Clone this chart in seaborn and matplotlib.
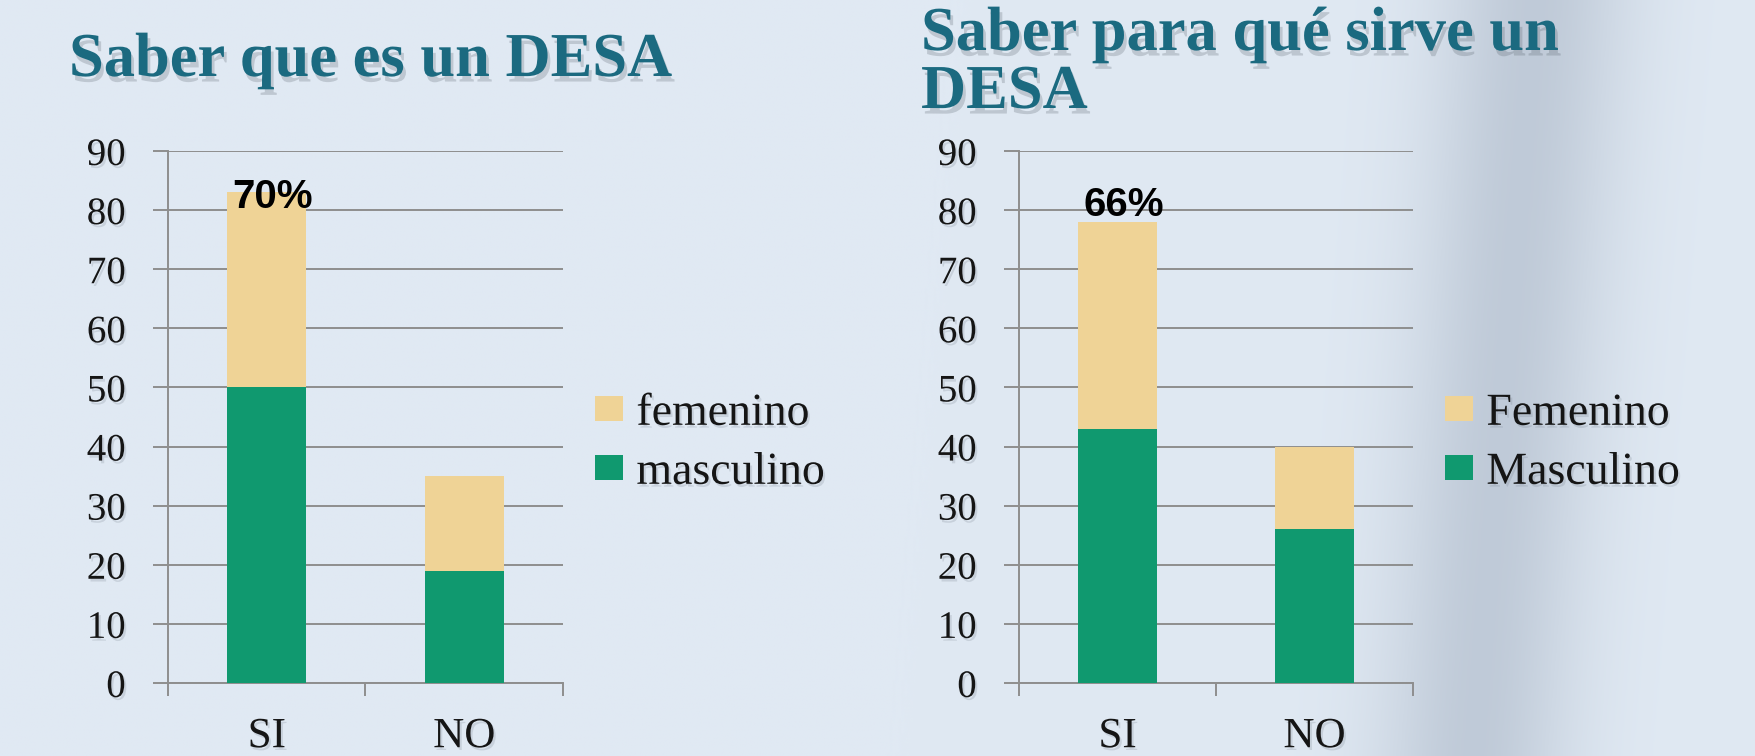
import numpy as np
import pandas as pd
import matplotlib
matplotlib.use("Agg")
import matplotlib.pyplot as plt
import matplotlib.patheffects as pe
from matplotlib.patches import Patch
import seaborn as sns

sns.set_theme(style="white")
plt.rcParams['font.family'] = ['Liberation Serif', 'DejaVu Serif']

# Data
categories = ["SI", "NO"]
masc_que_es = [50, 19]
fem_que_es = [33, 16]
masc_para_que = [43, 26]
fem_para_que = [35, 14]
pct_labels = ["70%", "66%"]
titles = ["Saber que es un DESA", "Saber para qué sirve un\nDESA"]
legend_names = [("femenino", "masculino"), ("Femenino", "Masculino")]

GREEN = "#10996f"
TAN = "#efd396"
GRID = "#8e8e8e"
TEAL = "#1b6a80"
TXT = "#151515"

W, H = 1756, 756
fig = plt.figure(figsize=(W / 100, H / 100), dpi=100)

# pale blue paper background with a darker blurred band on the right
bg_ax = fig.add_axes([0, 0, 1, 1], zorder=-10)
xx = np.linspace(0, 1, 600)
yy = np.linspace(0, 1, 200)[:, None]
base = np.array([224, 233, 243]) / 255
dark = np.array([170, 182, 198]) / 255
band = 0.6 * np.exp(-((xx - 0.84 - 0.035 * yy) / 0.055) ** 2)
img = base[None, None, :] * (1 - band[..., None]) + dark[None, None, :] * band[..., None]
bg_ax.imshow(img, aspect="auto", extent=[0, 1, 0, 1], origin="lower")
bg_ax.set_axis_off()

shadow = [pe.withSimplePatchShadow(offset=(2, -4), shadow_rgbFace="#46505a", alpha=0.22)]
light_shadow = [pe.withSimplePatchShadow(offset=(1.5, -2), shadow_rgbFace="#6a7480", alpha=0.2)]

panels = [
    (masc_que_es, fem_que_es, [168 / W, 1 - 683 / H, 395 / W, 532 / H], 69, [76], 82.2),
    (masc_para_que, fem_para_que, [1019 / W, 1 - 683 / H, 394 / W, 532 / H], 921, [50, 108], 80.9),
]

for i, (masc, fem, rect, tx, baselines, ly) in enumerate(panels):
    ax = fig.add_axes(rect)
    ax.set_facecolor("none")
    df = pd.DataFrame({"cat": categories, "masc": masc, "fem": fem})
    df["total"] = df["masc"] + df["fem"]
    sns.barplot(data=df, x="cat", y="total", color=TAN, width=0.4,
                saturation=1, linewidth=0, ax=ax, zorder=3)
    sns.barplot(data=df, x="cat", y="masc", color=GREEN, width=0.4,
                saturation=1, linewidth=0, ax=ax, zorder=4)
    ax.set_xlim(-0.5, 1.5)
    ax.set_ylim(0, 90)
    ax.set_yticks(range(0, 91, 10))
    ax.grid(axis="y", color=GRID, lw=1.4, zorder=1)
    ax.set_axisbelow(True)
    ax.set_xlabel("")
    ax.set_ylabel("")
    for s in ["top", "right"]:
        ax.spines[s].set_visible(False)
    for s in ["left", "bottom"]:
        ax.spines[s].set_color(GRID)
        ax.spines[s].set_linewidth(1.4)
    ax.tick_params(axis="y", length=10.5, width=1.4, color=GRID, direction="out",
                   pad=20, labelsize=28, labelcolor=TXT, left=True)
    ax.set_xticks([-0.5, 0.5, 1.5], minor=True)
    ax.tick_params(axis="x", which="minor", length=9, width=1.4, color=GRID,
                   direction="out", bottom=True)
    ax.tick_params(axis="x", which="major", length=0, pad=25, labelsize=31,
                   labelcolor=TXT)
    for lab in ax.get_yticklabels() + ax.get_xticklabels():
        lab.set_path_effects(light_shadow)

    # percentage label on the SI bar
    ax.text(0.03, ly, pct_labels[i], ha="center", va="center",
            fontsize=29, fontweight="bold", family="Liberation Sans",
            color="black", zorder=6)

    handles = [Patch(facecolor=TAN, edgecolor="none"),
               Patch(facecolor=GREEN, edgecolor="none")]
    leg = ax.legend(handles, legend_names[i], loc="center left",
                    bbox_to_anchor=(1.035, 0.451), frameon=False, fontsize=33,
                    handlelength=0.6, handleheight=0.45, handletextpad=0.3,
                    labelspacing=0.36, borderaxespad=0)
    for t in leg.get_texts():
        t.set_color(TXT)
        t.set_path_effects(light_shadow)

    for line, by in zip(titles[i].split("\n"), baselines):
        fig.text(tx / W, 1 - by / H, line, ha="left", va="baseline", fontsize=45,
                 fontweight="bold", color=TEAL, path_effects=shadow)

fig.savefig("out.png", dpi=100)
